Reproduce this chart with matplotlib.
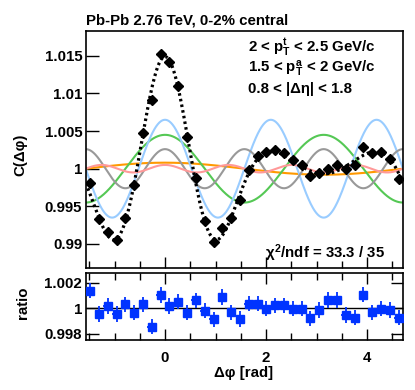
import numpy as np
import matplotlib; matplotlib.use("Agg")
import matplotlib.pyplot as plt
from matplotlib.ticker import MultipleLocator, FixedLocator

plt.rcParams["font.family"] = ["Liberation Sans", "DejaVu Sans"]
plt.rcParams["font.weight"] = "bold"
plt.rcParams["mathtext.fontset"] = "custom"
plt.rcParams["mathtext.rm"] = "Liberation Sans:bold"
plt.rcParams["mathtext.it"] = "Liberation Sans:bold"
plt.rcParams["mathtext.bf"] = "Liberation Sans:bold"

# 36 bins over [-pi/2, 3pi/2)
nbins = 36
c_vals = [0.99804, 0.99326, 0.99157, 0.99051, 0.99348, 0.99782, 1.00479, 1.00908,
          1.01520, 1.01423, 1.01098, 1.00420, 0.99880, 0.99303, 0.99024, 0.99215,
          0.99339, 0.99582, 0.99977, 1.00168, 1.00221, 1.00247, 1.00203, 1.00114,
          1.00044, 0.99902, 0.99937, 1.00000, 1.00044, 1.00000, 1.00044, 1.00287,
          1.00203, 1.00226, 1.00124, 0.99867]
c_err = [0.0003] * nbins
ratio_vals = [1.00138, 0.99956, 1.00018, 0.99956, 1.00031, 0.99966, 1.00031, 0.99857,
              1.00104, 1.00018, 1.00052, 0.99966, 1.00062, 0.99982, 0.99914, 1.00088,
              0.99969, 0.99917, 1.00036, 1.00036, 0.99997, 1.00023, 1.00023, 0.99997,
              0.99997, 0.99922, 0.99987, 1.00065, 1.00065, 0.99948, 0.99927, 1.00106,
              0.99969, 0.99997, 0.99987, 0.99927]
ratio_err = [0.0006] * nbins

# Fourier components of the fit: 1 + a_n cos(n dphi)
harm_n = [1, 2, 3, 4, 5]
harm_amp = [0.0008, 0.0045, 0.0065, 0.0026, 0.0005]
harm_col = ["#ff9900", "#55c855", "#99ccff", "#999999", "#ff9999"]

lo, hi = -np.pi/2, 3*np.pi/2
width = (hi - lo) / nbins
x = lo + (np.arange(nbins) + 0.5) * width
xf = np.linspace(lo, hi, 600)

fig = plt.figure(figsize=(4.15, 3.9), dpi=100)
ax = fig.add_axes([0.2065, 0.3128, 0.7646, 0.6077])
axr = fig.add_axes([0.2065, 0.1282, 0.7646, 0.1718])

fit = np.ones_like(xf)
for n, a, col in zip(harm_n, harm_amp, harm_col):
    comp = a * np.cos(n * xf)
    fit += comp
    ax.plot(xf, 1 + comp, color=col, lw=1.5, zorder=2)
ax.plot(xf, fit, color="black", lw=2.3, ls=(0, (0.8, 1.0)), zorder=3)
ax.errorbar(x, c_vals, yerr=c_err, xerr=width/2, fmt="D", color="black",
            ms=5, elinewidth=1, capsize=0, zorder=4)

ax.set_xlim(lo, hi)
ax.set_ylim(0.9868, 1.0183)
ax.yaxis.set_major_locator(FixedLocator([0.99, 0.995, 1.0, 1.005, 1.01, 1.015]))
ax.set_yticklabels(["0.99", "0.995", "1", "1.005", "1.01", "1.015"])
ax.xaxis.set_major_locator(FixedLocator([0, 2, 4]))
ax.xaxis.set_minor_locator(MultipleLocator(0.5))
ax.tick_params(axis="y", direction="in", length=9, width=1, labelsize=10.8, pad=2.5)
ax.tick_params(axis="x", which="major", direction="in", length=8, width=1, labelbottom=False)
ax.tick_params(axis="x", which="minor", direction="in", length=5, width=1)

axr.errorbar(x, ratio_vals, yerr=ratio_err, xerr=width/2, fmt="s", color="#0033ff",
             ms=5.5, elinewidth=1.3, capsize=0, zorder=3)
axr.axhline(1, color="black", lw=1, zorder=2)
axr.set_xlim(lo, hi)
axr.set_ylim(0.99753, 1.00275)
axr.yaxis.set_major_locator(FixedLocator([0.998, 1.0, 1.002]))
axr.set_yticklabels(["0.998", "1", "1.002"])
axr.xaxis.set_major_locator(FixedLocator([0, 2, 4]))
axr.xaxis.set_minor_locator(MultipleLocator(0.5))
axr.tick_params(axis="y", direction="in", length=9, width=1, labelsize=10.8, pad=2.5,
                right=True)
axr.tick_params(axis="x", which="major", direction="in", length=8, width=1,
                labelsize=10.8, pad=8, top=True)
axr.tick_params(axis="x", which="minor", direction="in", length=5, width=1, top=True)

for a in (ax, axr):
    for s in a.spines.values():
        s.set_linewidth(1.2)
    for lab in a.get_xticklabels() + a.get_yticklabels():
        lab.set_fontweight("bold")

fig.text(0.207, 0.947, "Pb-Pb 2.76 TeV, 0-2% central", fontsize=10.8,
         weight="bold", va="center", ha="left")
fig.text(0.598, 0.8777, r"2 < p$^{t}_{T}$ < 2.5 GeV/c", fontsize=10.8, va="center")
fig.text(0.598, 0.8223, r"1.5 < p$^{a}_{T}$ < 2 GeV/c", fontsize=10.8, va="center")
fig.text(0.598, 0.771, "0.8 < |Δη| < 1.8", fontsize=10.8, va="center")
fig.text(0.928, 0.3505, r"$\chi^{2}$/ndf = 33.3 / 35", fontsize=10.8, va="center",
         ha="right")
fig.text(0.05, 0.603, "C(Δφ)", fontsize=10.8, rotation=90, va="center", ha="center")
fig.text(0.055, 0.223, "ratio", fontsize=10.8, rotation=90, va="center", ha="center")
fig.text(0.588, 0.0436, "Δφ [rad]", fontsize=10.8, va="center", ha="center")

fig.savefig("out.png", dpi=100)
